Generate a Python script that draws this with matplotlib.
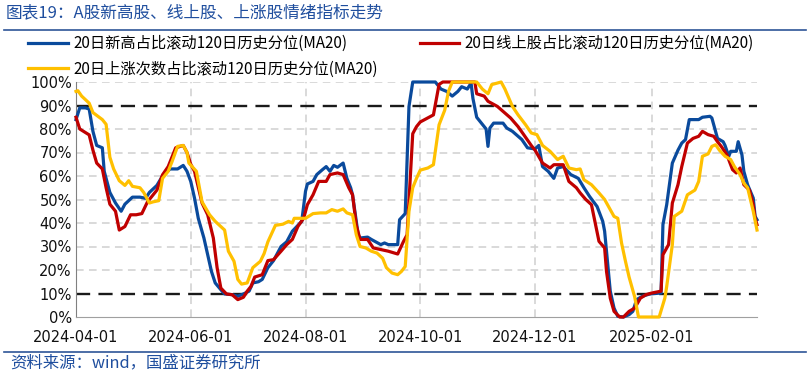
import matplotlib
matplotlib.use("Agg")
import matplotlib.pyplot as plt
import matplotlib.dates as mdates
from matplotlib.lines import Line2D
from matplotlib.ticker import FuncFormatter
import pandas as pd

plt.rcParams['font.family'] = ['DejaVu Sans', 'Noto Sans CJK SC']
CJK = ['Noto Sans CJK SC', 'DejaVu Sans']

# ---- data (percentile, %) ----
blue_dates = [
    "2024-04-01", "2024-04-03", "2024-04-06", "2024-04-08", "2024-04-10", "2024-04-12", "2024-04-15", "2024-04-16",
    "2024-04-19", "2024-04-22", "2024-04-25", "2024-04-27",
    "2024-05-01", "2024-05-05", "2024-05-08", "2024-05-10", "2024-05-14", "2024-05-17", "2024-05-21", "2024-05-25",
    "2024-05-28", "2024-05-30",
    "2024-06-01", "2024-06-03", "2024-06-05", "2024-06-08", "2024-06-10", "2024-06-12", "2024-06-14", "2024-06-17",
    "2024-06-19", "2024-06-23", "2024-06-26", "2024-06-29",
    "2024-07-02", "2024-07-04", "2024-07-07", "2024-07-09", "2024-07-12", "2024-07-15", "2024-07-19", "2024-07-22",
    "2024-07-25", "2024-07-28", "2024-07-30",
    "2024-08-01", "2024-08-02", "2024-08-05", "2024-08-07", "2024-08-10", "2024-08-12", "2024-08-14", "2024-08-16",
    "2024-08-18", "2024-08-21", "2024-08-23", "2024-08-25", "2024-08-26", "2024-08-29", "2024-08-30",
    "2024-09-03", "2024-09-05", "2024-09-10", "2024-09-12", "2024-09-14", "2024-09-19", "2024-09-20", "2024-09-23",
    "2024-09-25", "2024-09-27",
    "2024-10-09", "2024-10-12", "2024-10-15", "2024-10-18", "2024-10-21", "2024-10-23", "2024-10-26", "2024-10-28",
    "2024-10-29", "2024-10-31",
    "2024-11-03", "2024-11-05", "2024-11-06", "2024-11-07", "2024-11-09", "2024-11-14", "2024-11-16", "2024-11-19",
    "2024-11-21", "2024-11-24", "2024-11-27",
    "2024-12-01", "2024-12-03", "2024-12-05", "2024-12-08", "2024-12-11", "2024-12-13", "2024-12-16", "2024-12-20",
    "2024-12-24", "2024-12-27", "2024-12-30",
    "2025-01-03", "2025-01-06", "2025-01-07", "2025-01-08", "2025-01-10", "2025-01-12", "2025-01-14", "2025-01-17",
    "2025-01-20", "2025-01-22", "2025-01-24", "2025-01-27", "2025-01-31",
    "2025-02-06", "2025-02-07", "2025-02-09", "2025-02-12", "2025-02-15", "2025-02-17", "2025-02-19", "2025-02-21",
    "2025-02-26", "2025-02-28",
    "2025-03-04", "2025-03-05", "2025-03-08", "2025-03-11", "2025-03-12", "2025-03-14", "2025-03-15", "2025-03-18",
    "2025-03-19", "2025-03-21", "2025-03-22", "2025-03-24", "2025-03-27", "2025-03-28", "2025-03-29",
]
blue_vals = [
    84, 89, 89, 88.5, 79, 73, 72, 62, 53, 48.5, 45, 48,
    51, 51, 50.5, 53, 56, 60, 63, 63, 64.5, 62,
    57.7, 50.6, 42, 33.6, 26.5, 19.4, 14.5, 11.6, 9.8, 9.5, 8.8, 9.8,
    11, 14.5, 15, 16, 21, 24, 30, 32, 36.5, 39, 40.7,
    53.5, 56.6, 57.7, 60.6, 62.7, 64, 62, 64.5, 63.7, 65.5, 59, 55, 52, 35, 33.6,
    34, 33, 30.8, 31.5, 30.8, 30.8, 41.4, 44, 89.6, 100,
    100, 97, 96, 94, 96, 98, 97, 99.5, 93, 85,
    82, 80, 72.6, 80.4, 82.5, 82.5, 80.4, 79, 77.6, 75.5, 72,
    71.5, 73, 64, 62, 59, 63.4, 64, 60.6, 59, 55, 51.3,
    47, 40.7, 36.5, 28, 11, 3.8, 0.3, 0, 1, 2.4, 7.4, 8.8, 9.8,
    10.2, 39.3, 47.8, 65.5, 71, 74, 75.5, 84, 84, 85,
    85.4, 84.7, 76, 74.6, 73, 68.4, 70.5, 70.5, 74.6, 69, 62, 56.3, 50.6, 42.8, 41.4,
]

red_dates = [
    "2024-04-01", "2024-04-03", "2024-04-08", "2024-04-10", "2024-04-12", "2024-04-15", "2024-04-17", "2024-04-19",
    "2024-04-22", "2024-04-24", "2024-04-27", "2024-04-30",
    "2024-05-03", "2024-05-06", "2024-05-09", "2024-05-12", "2024-05-14", "2024-05-17", "2024-05-20", "2024-05-24",
    "2024-05-28", "2024-05-30",
    "2024-06-01", "2024-06-03", "2024-06-07", "2024-06-10", "2024-06-13", "2024-06-15", "2024-06-17", "2024-06-20",
    "2024-06-23", "2024-06-26", "2024-06-29",
    "2024-07-01", "2024-07-03", "2024-07-05", "2024-07-09", "2024-07-12", "2024-07-15", "2024-07-19", "2024-07-22",
    "2024-07-25", "2024-07-28", "2024-07-31",
    "2024-08-02", "2024-08-05", "2024-08-08", "2024-08-12", "2024-08-14", "2024-08-18", "2024-08-21", "2024-08-24",
    "2024-08-26", "2024-08-28", "2024-08-30",
    "2024-09-03", "2024-09-06", "2024-09-10", "2024-09-14", "2024-09-19", "2024-09-22", "2024-09-24", "2024-09-27",
    "2024-09-29",
    "2024-10-01", "2024-10-08", "2024-10-11", "2024-10-13", "2024-10-30", "2024-10-31",
    "2024-11-04", "2024-11-06", "2024-11-11", "2024-11-14", "2024-11-18", "2024-11-22", "2024-11-25", "2024-11-29",
    "2024-12-01", "2024-12-05", "2024-12-09", "2024-12-11", "2024-12-16", "2024-12-19", "2024-12-23", "2024-12-25",
    "2024-12-28", "2024-12-31",
    "2025-01-04", "2025-01-07", "2025-01-08", "2025-01-10", "2025-01-12", "2025-01-15", "2025-01-17", "2025-01-20",
    "2025-01-23", "2025-01-26", "2025-01-29",
    "2025-02-01", "2025-02-06", "2025-02-07", "2025-02-10", "2025-02-12", "2025-02-15", "2025-02-17", "2025-02-20",
    "2025-02-23", "2025-02-26", "2025-02-28",
    "2025-03-03", "2025-03-06", "2025-03-08", "2025-03-10", "2025-03-13", "2025-03-16", "2025-03-18", "2025-03-20",
    "2025-03-22", "2025-03-25", "2025-03-27", "2025-03-28", "2025-03-29",
]
red_vals = [
    85, 80, 77.5, 71, 65.5, 63, 55, 48, 45, 37, 38.5, 43.5,
    43.5, 44, 49, 52, 54, 60.5, 64, 72, 73, 70,
    65, 62, 48.5, 43.5, 33.6, 21, 12.3, 9.8, 9.5, 7.4, 8.4,
    11, 13, 17, 18, 24, 24.4, 28, 30.8, 33, 38.6, 42,
    47.8, 52, 57.7, 57.7, 60.6, 61.3, 60.6, 55, 52, 39, 33,
    33, 29.4, 28.7, 28, 26.8, 32, 35, 78, 81,
    83, 86, 99, 100, 100, 95,
    94, 91.8, 89.6, 87.5, 84.7, 81, 77.6, 73,
    71, 65.5, 63.4, 64.8, 64.8, 57.7, 55, 52.8, 50, 47.8,
    32.2, 29.4, 19.4, 8, 2.4, 0, 0, 2.4, 3.8, 8, 9.5,
    10.2, 11, 26.5, 30.8, 48.5, 56.3, 64, 74, 76, 76.9, 79,
    77.6, 76.9, 74.6, 72.6, 69, 62.7, 61.3, 63.4, 56.3, 54, 47.8, 42, 39.3,
]

yellow_dates = [
    "2024-04-01", "2024-04-02", "2024-04-04", "2024-04-08", "2024-04-10", "2024-04-15", "2024-04-17", "2024-04-19",
    "2024-04-21", "2024-04-24", "2024-04-27", "2024-04-29",
    "2024-05-01", "2024-05-05", "2024-05-07", "2024-05-10", "2024-05-12", "2024-05-15", "2024-05-17", "2024-05-20",
    "2024-05-22", "2024-05-25", "2024-05-28", "2024-05-30", "2024-05-31",
    "2024-06-04", "2024-06-07", "2024-06-11", "2024-06-14", "2024-06-19", "2024-06-21", "2024-06-24", "2024-06-26",
    "2024-06-28",
    "2024-07-01", "2024-07-04", "2024-07-08", "2024-07-10", "2024-07-12", "2024-07-16", "2024-07-20", "2024-07-23",
    "2024-07-25", "2024-07-26",
    "2024-08-01", "2024-08-05", "2024-08-09", "2024-08-12", "2024-08-15", "2024-08-18", "2024-08-21", "2024-08-23",
    "2024-08-26", "2024-08-28", "2024-08-30",
    "2024-09-02", "2024-09-05", "2024-09-08", "2024-09-11", "2024-09-13", "2024-09-16", "2024-09-19", "2024-09-21",
    "2024-09-23", "2024-09-25", "2024-09-27", "2024-09-29",
    "2024-10-01", "2024-10-05", "2024-10-08", "2024-10-11", "2024-10-14", "2024-10-16", "2024-10-18", "2024-10-31",
    "2024-11-03", "2024-11-06", "2024-11-08", "2024-11-13", "2024-11-15", "2024-11-19", "2024-11-22", "2024-11-26",
    "2024-11-29",
    "2024-12-02", "2024-12-05", "2024-12-09", "2024-12-13", "2024-12-16", "2024-12-19", "2024-12-23", "2024-12-25",
    "2024-12-27", "2024-12-31",
    "2025-01-04", "2025-01-07", "2025-01-12", "2025-01-14", "2025-01-16", "2025-01-18", "2025-01-20", "2025-01-23",
    "2025-01-25",
    "2025-02-05", "2025-02-08", "2025-02-09", "2025-02-12", "2025-02-13", "2025-02-17", "2025-02-20", "2025-02-24",
    "2025-02-26", "2025-02-28",
    "2025-03-03", "2025-03-05", "2025-03-07", "2025-03-09", "2025-03-12", "2025-03-15", "2025-03-17", "2025-03-20",
    "2025-03-22", "2025-03-24", "2025-03-27", "2025-03-29",
]
yellow_vals = [
    96, 96.3, 94, 91, 87, 84, 82, 68, 63, 58, 56, 58,
    55.6, 55, 53, 48.5, 49, 49.5, 59, 62, 66, 72.6, 73, 70, 65.5,
    62, 49, 43.5, 40.7, 37, 28, 23.7, 16, 14,
    14.5, 21, 23.7, 27, 32, 39, 39.5, 40.7, 40, 42,
    42, 44, 44.3, 44.3, 45.7, 45, 46, 44.3, 43.5, 35, 30,
    29.4, 28, 27.2, 25, 21, 18.7, 18, 19.4, 21.5, 45, 55, 59,
    62.5, 63.4, 64.8, 81.8, 88, 96, 100, 100,
    97, 95, 98.9, 100, 97, 89.6, 86, 81.8, 78.3,
    77.6, 73, 70.5, 67, 68.4, 63.4, 62.7, 63, 58.4, 56.3,
    52.8, 50, 42.8, 42, 31.5, 24, 17, 8.5, 0,
    0, 8, 13, 30.8, 42.8, 45, 52, 54, 57.7, 68.4,
    69.4, 72.6, 73.3, 71, 68.4, 67, 64, 60.6, 57, 55, 45, 37,
]

labels = ["20日新高占比滚动120日历史分位(MA20)",
          "20日线上股占比滚动120日历史分位(MA20)",
          "20日上涨次数占比滚动120日历史分位(MA20)"]
colors = ["#0A4A9C", "#C00000", "#FFC000"]
xtick_dates = ["2024-04-01", "2024-06-01", "2024-08-01", "2024-10-01", "2024-12-01", "2025-02-01"]

# ---- figure ----
fig = plt.figure(figsize=(8.1, 3.77), dpi=100)
ax = fig.add_axes([76 / 810, 60 / 377, 681 / 810, 235 / 377])

series = [(blue_dates, blue_vals), (red_dates, red_vals), (yellow_dates, yellow_vals)]
handles = []
for (d, v), c, lab in zip(series, colors, labels):
    ln, = ax.plot(pd.to_datetime(d), v, color=c, lw=2.3, label=lab, clip_on=False, zorder=3)
    handles.append(ln)

ax.set_ylim(0, 100)
ax.set_yticks(range(0, 101, 10))
ax.yaxis.set_major_formatter(FuncFormatter(lambda v, p: f"{v:.0f}%"))
ax.set_xlim(pd.Timestamp("2024-04-01"), pd.Timestamp("2025-03-29"))
ax.set_xticks(pd.to_datetime(xtick_dates))
ax.xaxis.set_major_formatter(mdates.DateFormatter("%Y-%m-%d"))

for y in range(20, 90, 10):
    ax.axhline(y, color="#D0D0D0", lw=1.1, ls=(0, (5, 3.5)), zorder=1)
ax.axhline(100, color="#D0D0D0", lw=1.1, ls=(0, (5, 3.5)), zorder=1)
for xd in xtick_dates[1:]:
    ax.axvline(pd.Timestamp(xd), color="#D0D0D0", lw=1.1, ls=(0, (5, 3.5)), zorder=1)
for y in (10, 90):
    ax.axhline(y, color="#1A1A1A", lw=1.7, ls=(0, (6, 3.5)), zorder=2)

for s in ("top", "right"):
    ax.spines[s].set_visible(False)
ax.spines["left"].set_color("#808080")
ax.spines["bottom"].set_color("#A0A0A0")
ax.tick_params(axis="y", length=0, pad=3, labelsize=10.5, colors="#111111")
ax.tick_params(axis="x", length=0, pad=9, labelsize=10.5, colors="#111111")

# legend
fig.legend(handles=[handles[0], handles[2], handles[1]],
           labels=[labels[0], labels[2], labels[1]],
           ncol=2, loc="upper left", bbox_to_anchor=(28 / 810, 1 - 35 / 377),
           frameon=False, borderpad=0, borderaxespad=0, handlelength=2.6,
           handletextpad=0.35, labelspacing=0.55, columnspacing=2.75,
           prop={"family": CJK, "size": 11})

# title & source
title_color = "#1F4E9E"
fig.text(6 / 810, 1 - 13 / 377, "图表19：A股新高股、线上股、上涨股情绪指标走势",
         color=title_color, fontsize=12, family=CJK, va="center", ha="left", style="italic")
fig.add_artist(Line2D([0.005, 0.995], [1 - 30 / 377, 1 - 30 / 377], color="#2E5597", lw=1.2))
fig.add_artist(Line2D([0.005, 0.995], [1 - 352 / 377, 1 - 352 / 377], color="#2E5597", lw=1.2))
fig.text(10 / 810, 1 - 363 / 377, "资料来源：wind，国盛证券研究所",
         color=title_color, fontsize=11.8, family=CJK, va="center", ha="left", style="italic")

fig.savefig("out.png", dpi=100)
